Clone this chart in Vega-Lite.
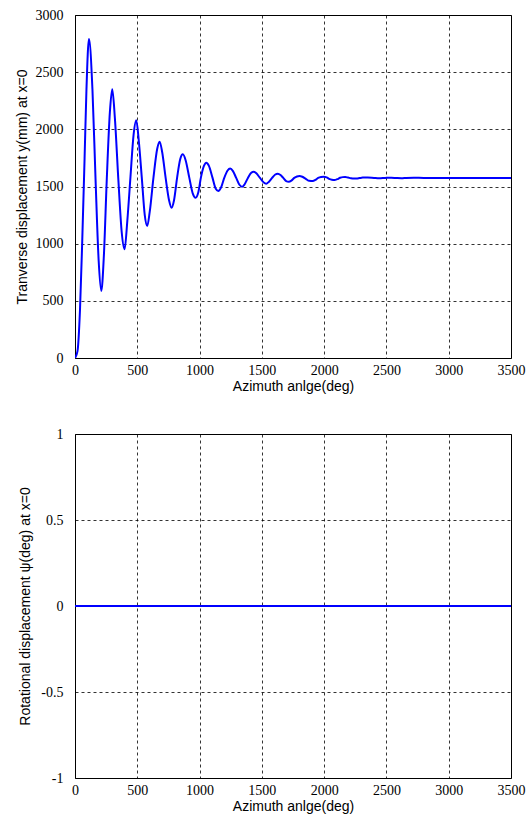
{
  "$schema": "https://vega.github.io/schema/vega-lite/v6.json",
  "background": "white",
  "padding": {"left": 14, "top": 7, "right": 14, "bottom": 5},
  "spacing": 76,
  "bounds": "flush",
  "config": {
    "view": {"stroke": "black", "strokeWidth": 1},
    "axis": {
      "grid": true,
      "gridColor": "black",
      "gridDash": [3, 3],
      "gridOpacity": 0.8,
      "gridWidth": 1,
      "domain": false,
      "ticks": false,
      "labelFont": "Liberation Serif",
      "labelFontSize": 14,
      "labelColor": "black",
      "titleFont": "Liberation Sans",
      "titleFontSize": 14,
      "titleFontWeight": "normal",
      "titleColor": "black"
    }
  },
  "datasets": {
    "trans": [
      {"az": 0, "y": 0}, {"az": 20, "y": 60}, {"az": 40, "y": 420}, {"az": 58, "y": 1020}, {"az": 77, "y": 1750}, {"az": 92, "y": 2350}, {"az": 112, "y": 2790},
      {"az": 140, "y": 2350}, {"az": 165, "y": 1560}, {"az": 190, "y": 850}, {"az": 211, "y": 586},
      {"az": 232, "y": 900}, {"az": 255, "y": 1560}, {"az": 280, "y": 2150}, {"az": 299, "y": 2350},
      {"az": 320, "y": 2100}, {"az": 348, "y": 1560}, {"az": 375, "y": 1100}, {"az": 398, "y": 951},
      {"az": 420, "y": 1200}, {"az": 445, "y": 1580}, {"az": 470, "y": 1950}, {"az": 492, "y": 2079},
      {"az": 512, "y": 1900}, {"az": 536, "y": 1580}, {"az": 560, "y": 1250}, {"az": 580, "y": 1155},
      {"az": 600, "y": 1280}, {"az": 630, "y": 1580}, {"az": 660, "y": 1830}, {"az": 679, "y": 1892},
      {"az": 700, "y": 1800}, {"az": 727, "y": 1580}, {"az": 755, "y": 1380}, {"az": 775, "y": 1315},
      {"az": 795, "y": 1380}, {"az": 820, "y": 1580}, {"az": 845, "y": 1740}, {"az": 866, "y": 1781},
      {"az": 888, "y": 1730}, {"az": 917, "y": 1580}, {"az": 945, "y": 1440}, {"az": 968, "y": 1402},
      {"az": 990, "y": 1450}, {"az": 1011, "y": 1580}, {"az": 1035, "y": 1680}, {"az": 1054, "y": 1708},
      {"az": 1075, "y": 1680}, {"az": 1103, "y": 1580}, {"az": 1130, "y": 1480}, {"az": 1150, "y": 1461},
      {"az": 1172, "y": 1490}, {"az": 1198, "y": 1575}, {"az": 1225, "y": 1640}, {"az": 1246, "y": 1657},
      {"az": 1268, "y": 1635}, {"az": 1294, "y": 1575}, {"az": 1320, "y": 1515}, {"az": 1341, "y": 1497},
      {"az": 1362, "y": 1520}, {"az": 1388, "y": 1575}, {"az": 1415, "y": 1620}, {"az": 1435, "y": 1630},
      {"az": 1456, "y": 1615}, {"az": 1485, "y": 1575}, {"az": 1515, "y": 1535}, {"az": 1535, "y": 1525},
      {"az": 1555, "y": 1540}, {"az": 1582, "y": 1575}, {"az": 1608, "y": 1605}, {"az": 1628, "y": 1612},
      {"az": 1650, "y": 1600}, {"az": 1672, "y": 1575}, {"az": 1695, "y": 1548}, {"az": 1716, "y": 1542},
      {"az": 1737, "y": 1552}, {"az": 1760, "y": 1575}, {"az": 1782, "y": 1588}, {"az": 1802, "y": 1592},
      {"az": 1825, "y": 1585}, {"az": 1855, "y": 1565}, {"az": 1880, "y": 1550}, {"az": 1909, "y": 1548},
      {"az": 1930, "y": 1558}, {"az": 1952, "y": 1575}, {"az": 1975, "y": 1584}, {"az": 1995, "y": 1586},
      {"az": 2020, "y": 1580}, {"az": 2040, "y": 1567}, {"az": 2062, "y": 1559}, {"az": 2083, "y": 1557},
      {"az": 2105, "y": 1564}, {"az": 2128, "y": 1576}, {"az": 2150, "y": 1582}, {"az": 2169, "y": 1583},
      {"az": 2192, "y": 1578}, {"az": 2215, "y": 1572}, {"az": 2240, "y": 1569}, {"az": 2260, "y": 1569},
      {"az": 2285, "y": 1574}, {"az": 2310, "y": 1578}, {"az": 2350, "y": 1579}, {"az": 2400, "y": 1575},
      {"az": 2440, "y": 1572}, {"az": 2490, "y": 1575}, {"az": 2540, "y": 1577}, {"az": 2580, "y": 1574},
      {"az": 2620, "y": 1572}, {"az": 2660, "y": 1575}, {"az": 2720, "y": 1577}, {"az": 2800, "y": 1575},
      {"az": 3500, "y": 1575}
    ],
    "rot": [
      {"az": 0, "psi": 0}, {"az": 3500, "psi": 0}
    ]
  },
  "vconcat": [
    {
      "width": 436,
      "height": 343,
      "data": {"name": "trans"},
      "mark": {"type": "line", "color": "#0000FF", "strokeWidth": 2, "interpolate": "monotone", "clip": true},
      "encoding": {
        "x": {"field": "az", "type": "quantitative", "scale": {"domain": [0, 3500], "nice": false, "zero": false},
          "axis": {"values": [0, 500, 1000, 1500, 2000, 2500, 3000, 3500], "labelExpr": "datum.value + ''", "title": "Azimuth anlge(deg)", "labelPadding": 5, "titlePadding": 2, "labelFlush": false}},
        "y": {"field": "y", "type": "quantitative", "scale": {"domain": [0, 3000], "nice": false},
          "axis": {"values": [0, 500, 1000, 1500, 2000, 2500, 3000], "labelExpr": "datum.value + ''", "title": "Tranverse displacement y(mm) at x=0", "labelPadding": 12, "titlePadding": 6, "labelFlush": false}}
      }
    },
    {
      "width": 436,
      "height": 344,
      "data": {"name": "rot"},
      "mark": {"type": "line", "color": "#0000FF", "strokeWidth": 2, "clip": true},
      "encoding": {
        "x": {"field": "az", "type": "quantitative", "scale": {"domain": [0, 3500], "nice": false, "zero": false},
          "axis": {"values": [0, 500, 1000, 1500, 2000, 2500, 3000, 3500], "labelExpr": "datum.value + ''", "title": "Azimuth anlge(deg)", "labelPadding": 5, "titlePadding": 2, "labelFlush": false}},
        "y": {"field": "psi", "type": "quantitative", "scale": {"domain": [-1, 1], "nice": false},
          "axis": {"values": [-1, -0.5, 0, 0.5, 1], "labelExpr": "datum.value + ''", "title": "Rotational displacement ψ(deg) at x=0", "labelPadding": 12, "titlePadding": 8, "labelFlush": false}}
      }
    }
  ]
}
